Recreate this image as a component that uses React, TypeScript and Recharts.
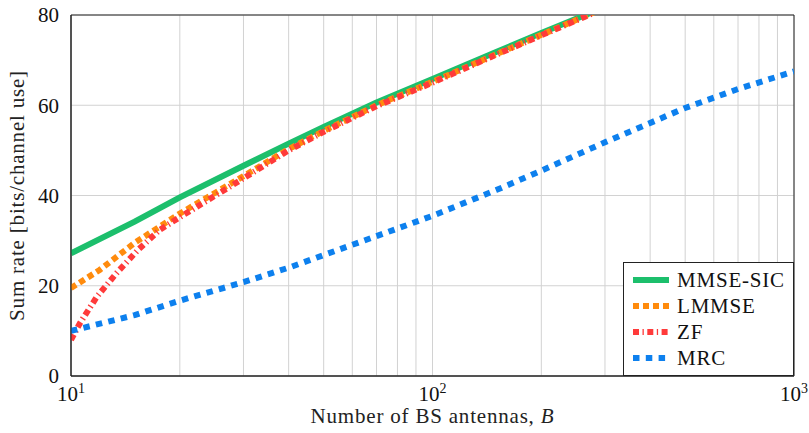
import React from "react";
import {
  LineChart,
  Line,
  XAxis,
  YAxis,
  CartesianGrid,
  ReferenceArea,
} from "recharts";

// antennas B and sum rate values per detector
const sicB = [10, 15, 20, 30, 40, 50, 70, 100, 150, 200, 280];
const sicRate = [27.2, 34.2, 39.6, 46.6, 51.5, 55.2, 60.6, 65.8, 71.8, 76.0, 80.8];

const lmmseB = [10, 12, 15, 20, 30, 40, 50, 70, 100, 150, 200, 280];
const lmmseRate = [19.5, 23.5, 29.5, 36.0, 44.3, 50.3, 54.3, 60.0, 65.2, 71.3, 75.6, 80.6];

const zfB = [10, 10.6, 11.8, 13.4, 15.3, 17.6, 20, 30, 40, 50, 70, 100, 150, 200, 280];
const zfRate = [8.0, 11.8, 17.6, 22.9, 27.9, 32.4, 35.2, 43.8, 50.0, 54.1, 59.8, 65.0, 71.2, 75.5, 80.5];

const mrcB = [10, 15, 20, 30, 40, 50, 70, 100, 150, 200, 300, 500, 700, 1000];
const mrcRate = [10.0, 13.5, 16.7, 20.8, 24.0, 26.8, 31.0, 35.5, 41.2, 45.5, 51.8, 59.4, 63.6, 67.5];

const xTicks = [10, 20, 30, 40, 50, 60, 70, 80, 90, 100, 200, 300, 400, 500, 600, 700, 800, 900, 1000];
const yTicks = [0, 20, 40, 60, 80];

const toRows = (b: number[], r: number[]) => b.map((v, i) => ({ b: v, rate: r[i] }));

const series = [
  { name: "MMSE-SIC", data: toRows(sicB, sicRate), color: "#1cbf6c", dash: undefined },
  { name: "LMMSE", data: toRows(lmmseB, lmmseRate), color: "#ff8b0d", dash: "6 4" },
  { name: "ZF", data: toRows(zfB, zfRate), color: "#ff3a3a", dash: "6 3.5 1.3 3.5" },
  { name: "MRC", data: toRows(mrcB, mrcRate), color: "#0d80ee", dash: "6.5 6.3" },
];

const FONT = "'Liberation Serif', serif";
const FS = 21;
const LS = 0.8;

// eslint-disable-next-line @typescript-eslint/no-explicit-any
const LogTick = ({ x, y, payload }: any) => {
  const v = payload.value as number;
  const e = Math.round(Math.log10(v));
  if (Math.abs(Math.pow(10, e) - v) > 1e-6) return <g />;
  return (
    <text x={x} y={y + 17} textAnchor="middle" fill="#111" fontFamily={FONT} fontSize={FS}>
      <tspan>10</tspan>
      <tspan dy={-8} fontSize={14}>{e}</tspan>
    </text>
  );
};

// eslint-disable-next-line @typescript-eslint/no-explicit-any
const XLabel = ({ viewBox }: any) => (
  <text x={viewBox.x + viewBox.width / 2} y={423} textAnchor="middle" fill="#222" fontFamily={FONT} fontSize={FS} letterSpacing={LS}>
    Number of BS antennas, <tspan fontStyle="italic">B</tspan>
  </text>
);

const LegendBox = () => (
  <div
    style={{
      position: "absolute",
      left: 623,
      top: 262,
      width: 171,
      height: 114,
      border: "1px solid #222",
      background: "#fff",
      fontFamily: FONT,
      fontSize: FS,
      letterSpacing: LS,
      color: "#111",
      boxSizing: "border-box",
      paddingTop: 4,
    }}
  >
    {series.map((s) => (
      <div key={s.name} style={{ display: "flex", alignItems: "center", height: 26 }}>
        <svg width={44} height={10} style={{ marginLeft: 9 }}>
          <line x1={0} y1={5} x2={36} y2={5} stroke={s.color} strokeWidth={6} strokeDasharray={s.dash} />
        </svg>
        <span>{s.name}</span>
      </div>
    ))}
  </div>
);

export default function App() {
  return (
    <div style={{ position: "absolute", left: 0, top: 0, width: 809, height: 433, background: "#fff" }}>
      <LineChart width={809} height={433} margin={{ top: 15, right: 15, left: 0, bottom: 0 }}>
        <CartesianGrid stroke="#d2d2d2" strokeWidth={1} />
        <XAxis
          dataKey="b"
          type="number"
          scale="log"
          domain={[10, 1000]}
          ticks={xTicks}
          interval={0}
          allowDataOverflow
          height={57}
          tick={<LogTick />}
          tickLine={false}
          axisLine={{ stroke: "#222" }}
          label={<XLabel />}
        />
        <YAxis
          type="number"
          domain={[0, 80]}
          ticks={yTicks}
          allowDataOverflow
          width={71}
          tickLine={false}
          axisLine={{ stroke: "#222" }}
          tick={{ fill: "#111", fontFamily: FONT, fontSize: FS }}
          tickMargin={6}
          label={{ value: "Sum rate [bits/channel use]", angle: -90, position: "insideLeft", offset: 17, style: { textAnchor: "middle", letterSpacing: LS }, fill: "#222", fontFamily: FONT, fontSize: FS }}
        />
        {series.map((s) => (
          <Line
            key={s.name}
            data={s.data}
            dataKey="rate"
            name={s.name}
            type="linear"
            stroke={s.color}
            strokeWidth={6}
            strokeDasharray={s.dash}
            dot={false}
            activeDot={false}
            isAnimationActive={false}
          />
        ))}
        <ReferenceArea x1={10} x2={1000} y1={0} y2={80} fill="none" stroke="#222" strokeWidth={1} ifOverflow="visible" />
      </LineChart>
      <LegendBox />
    </div>
  );
}
